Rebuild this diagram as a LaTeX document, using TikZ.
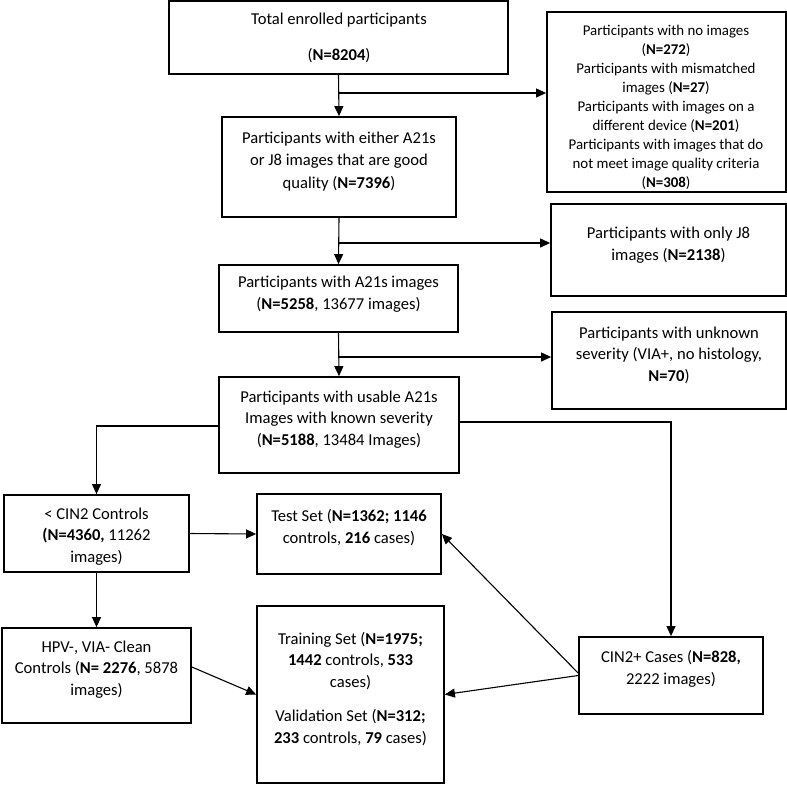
\documentclass[tikz,border=0pt]{standalone}
\usepackage{fontspec}
\setmainfont{Carlito}
\usetikzlibrary{arrows.meta,calc}
\begin{document}
\begin{tikzpicture}[x=1pt,y=-1pt,
  box/.style={draw=black,line width=1.8pt,rectangle,inner sep=0pt},
  txt/.style={align=center,inner sep=0pt,anchor=base,font=\fontsize{16.6}{21.5}\selectfont},
  smalltxt/.style={align=center,inner sep=0pt,anchor=base,font=\fontsize{14.9}{19}\selectfont},
  conn/.style={line width=1.1pt},
  arr/.style={conn,-{Triangle[length=10pt,width=9pt]}}]
\useasboundingbox (0,0) rectangle (787,785);

% boxes
\node[box,minimum width=339pt,minimum height=73pt] (b1) at (338.5,37.5) {};
\node[box,minimum width=239pt,minimum height=180pt] (bA) at (666.5,102) {};
\node[box,minimum width=234pt,minimum height=100pt] (b2) at (339,167) {};
\node[box,minimum width=235pt,minimum height=92pt] (bJ) at (668.5,250) {};
\node[box,minimum width=239pt,minimum height=67pt] (b3) at (338.5,298.5) {};
\node[box,minimum width=234pt,minimum height=97pt] (bU) at (669,360.5) {};
\node[box,minimum width=240pt,minimum height=96pt] (b4) at (339,425) {};
\node[box,minimum width=185pt,minimum height=77pt] (bC) at (96.5,533.5) {};
\node[box,minimum width=184pt,minimum height=80pt] (bT) at (349,534) {};
\node[box,minimum width=189pt,minimum height=95pt] (bH) at (96.5,675.5) {};
\node[box,minimum width=187pt,minimum height=177pt] (bR) at (350.5,694.5) {};
\node[box,minimum width=184pt,minimum height=77pt] (bK) at (671,675.5) {};

% texts (anchor = baseline of last line)
\node[txt] (t1) at (339,60) {Total enrolled participants\\[14.5pt](\textbf{N=8204})};
\node[smalltxt] (tA) at (666,187.5) {Participants with no images\\(\textbf{N=272})\\Participants with mismatched\\images (\textbf{N=27})\\Participants with images on a\\different device (\textbf{N=201})\\Participants with images that do\\not meet image quality criteria\\(\textbf{N=308})};
\node[txt] (t2) at (339,188) {Participants with either A21s\\[1pt]or J8 images that are good\\[1pt]quality (\textbf{N=7396})};
\node[txt] (tJ) at (668.5,260) {Participants with only J8\\images (\textbf{N=2138})};
\node[txt] (t3) at (338.5,309) {Participants with A21s images\\(\textbf{N=5258}, 13677 images)};
\node[txt] (tU) at (669,381) {Participants with unknown\\severity (VIA+, no histology,\\\textbf{N=70})};
\node[txt] (t4) at (339,445) {Participants with usable A21s\\Images with known severity\\(\textbf{N=5188}, 13484 Images)};
\node[txt] (tC) at (96.5,562) {< CIN2 Controls\\\textbf{(N=4360,} 11262\\images)};
\node[txt] (tT) at (349,543) {Test Set (\textbf{N=1362; 1146}\\controls, \textbf{216} cases)};
\node[txt] (tH) at (96.5,695) {HPV-, VIA- Clean\\Controls (\textbf{N= 2276}, 5878\\images)};
\node[txt] (tR) at (350.5,743) {Training Set (\textbf{N=1975;}\\\textbf{1442} controls, \textbf{533}\\cases)\\[13pt]Validation Set (\textbf{N=312;}\\\textbf{233} controls, \textbf{79} cases)};
\node[txt] (tK) at (671,684) {CIN2+ Cases (\textbf{N=828,}\\2222 images)};

% junction points
\coordinate (j1) at (339,93);
\coordinate (j2) at (339,243);
\coordinate (j3) at (339,357);
\coordinate (jl) at (96.5,426);
\coordinate (jr) at (671,422);

% connectors
\draw[arr] (b1.south) -- (b2.north);
\draw[arr] (j1) -- (j1 -| bA.west);
\draw[arr] (b2.south) -- (b3.north);
\draw[arr] (j2) -- (j2 -| bJ.west);
\draw[arr] (b3.south) -- (b4.north);
\draw[arr] (j3) -- (j3 -| bU.west);
\draw[arr] (jl -| b4.west) -- (jl) -- (bC.north);
\draw[arr] (jr -| b4.east) -- (jr) -- (bK.north);
\draw[arr] (bC.east) -- (bT.west);
\draw[arr] (bC.south) -- (bH.north);
\draw[arr] ($(bH.east)+(0,-8.5)$) -- (bR.west);
\draw[arr] ($(bK.west)+(0,-2.5)$) -- (bT.east);
\draw[arr] (bK.west) -- (bR.east);
\end{tikzpicture}
\end{document}
